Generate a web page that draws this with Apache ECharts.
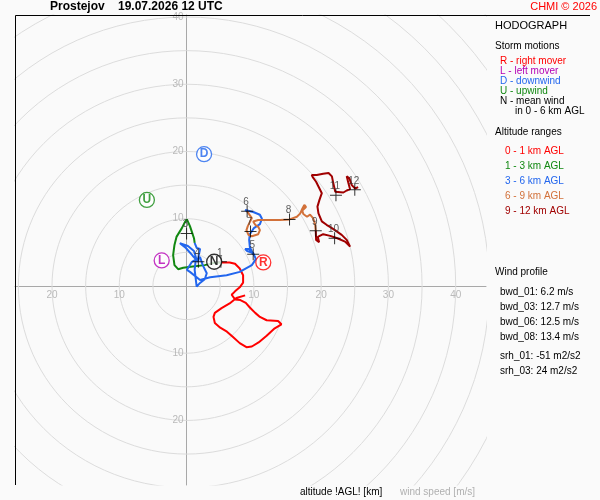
<!DOCTYPE html>
<html>
<head>
<meta charset="utf-8">
<script src="https://cdn.jsdelivr.net/npm/echarts@6.0.0/dist/echarts.min.js"></script>
<style>
  html, body { margin: 0; padding: 0; background: #fafafa; }
  #chart { width: 600px; height: 500px; }
</style>
</head>
<body>
<div id="chart"></div>
<script>
// hodograph wind components u / v [m/s], per altitude range
var redU = [8.7, 7.4, 6.4, 5.2, 4.2, 4.0, 4.2, 5.0, 6.0, 6.9, 7.9, 8.9, 9.7, 10.7, 11.9, 13.1, 14.1, 13.6, 11.9, 10.9, 10.2, 9.4, 8.8, 8.0, 7.2, 6.7, 7.2, 7.9, 8.4, 8.4, 7.9, 7.2, 6.4, 5.2]
var redV = [-1.4, -1.8, -2.6, -3.3, -4.0, -4.6, -5.5, -6.2, -6.8, -7.6, -8.5, -9.1, -9.0, -8.4, -7.4, -6.3, -5.7, -5.2, -5.1, -4.6, -4.0, -3.2, -2.5, -2.1, -2.0, -1.3, -0.8, -0.2, 0.5, 1.6, 2.6, 3.3, 3.5, 3.5]

var greenU = [5.2, 3.9, 2.7, 0.9, -0.5, -1.25, -1.8, -2.0, -1.8, -1.5, -0.7, -0.25, 0.05, 0.5, 0.8, 1.1, 1.2]
var greenV = [3.5, 3.4, 3.1, 2.9, 2.7, 2.5, 3.1, 4.6, 6.1, 7.3, 8.6, 9.5, 9.9, 8.9, 8.0, 7.1, 6.4]

var blueU = [1.2, 1.5, 2.0, 1.8, 1.75, 0.9, -0.1, -1.0, 0.2, 1.1, 1.4, 1.2, 1.5, 2.0, 2.7, 3.0, 2.4, 2.0, 0.8, 0.05, 0.5, 2.0, 3.5, 5.95, 7.9, 9.7, 10.3, 9.9, 9.0, 8.7, 9.3, 9.9, 9.4, 9.3, 9.4, 10.0, 10.9, 11.2, 10.9, 9.9, 8.7, 9.0]
var blueV = [6.4, 5.65, 5.5, 4.5, 3.6, 4.5, 5.65, 6.35, 5.95, 5.2, 4.2, 2.4, -0.1, 0.45, 1.0, 1.9, 3.1, 4.3, 3.6, 2.4, 2.1, 0.9, 1.3, 1.6, 2.1, 3.1, 4.0, 4.9, 5.2, 5.5, 5.5, 4.7, 5.8, 6.85, 7.7, 8.6, 9.2, 10.0, 10.6, 11.0, 11.3, 11.1]

var orangeU = [9.0, 9.7, 9.4, 9.1, 8.9, 9.2, 9.7, 10.65, 10.9, 10.65, 10.2, 9.9, 10.65, 11.2, 12.4, 13.9, 15.3, 16.4, 16.9, 17.2, 17.5, 17.75, 17.2, 17.35, 17.9, 18.35, 18.8, 19.1, 19.2]
var orangeV = [11.1, 10.1, 9.5, 8.9, 8.3, 7.6, 7.4, 7.7, 8.3, 8.8, 9.1, 9.6, 9.8, 9.8, 9.8, 9.8, 9.9, 10.3, 10.8, 11.5, 12.05, 11.75, 11.2, 10.7, 10.3, 10.6, 10.1, 9.2, 8.2]

var darkU = [19.2, 19.25, 19.7, 19.5, 20.3, 21.35, 22.4, 23.55, 24.3, 23.8, 23.05, 22.05, 21.3, 20.8, 20.1, 19.6, 19.45, 19.75, 20.1, 19.6, 19.25, 18.75, 18.6, 19.35, 20.3, 21.1, 21.6, 21.8, 22.1, 22.3, 23.3, 23.8, 24.3, 24.05, 23.8, 24.2, 24.55, 25.05, 25.5]
var darkV = [8.2, 6.85, 6.5, 7.3, 7.7, 7.45, 7.1, 6.6, 5.85, 6.85, 7.6, 8.3, 8.8, 9.1, 9.6, 10.8, 11.8, 12.8, 13.8, 14.8, 15.5, 16.2, 16.5, 16.5, 16.7, 16.8, 16.3, 15.3, 14.0, 13.8, 13.9, 14.2, 14.4, 15.3, 16.3, 16.0, 15.0, 14.5, 14.7]

// altitude markers [km]
var kmLabels = ['1', '3', '4', '5', '6', '7', '8', '9', '10', '11', '12']
var kmU = [5.1, 0.0, 1.75, 9.9, 9.0, 9.5, 15.3, 19.2, 22.0, 22.2, 25.0]
var kmV = [3.6, 7.8, 3.6, 4.7, 11.1, 8.1, 9.9, 8.2, 7.1, 13.5, 14.3]

// storm motions
var stormNames = ['R', 'L', 'D', 'U', 'N']
var stormU = [11.4, -3.7, 2.6, -5.9, 4.1]
var stormV = [3.5, 3.8, 19.6, 12.8, 3.6]
var stormColors = ['#ff0000', '#b400b4', '#2266ee', '#118811', '#000000']

// speed rings and axis ticks
var ringRadii = [5, 10, 15, 20, 25, 30, 35, 40, 45, 50, 55, 60]
var xTicks = [-20, -10, 10, 20, 30, 40]
var yTicks = [-20, -10, 10, 20, 30, 40]

var stormLegend = ['R - right mover', 'L - left mover', 'D - downwind', 'U - upwind', 'N - mean wind']
var altLegend = ['0 - 1 km AGL', '1 - 3 km AGL', '3 - 6 km AGL', '6 - 9 km AGL', '9 - 12 km AGL']
var altColors = ['#ff0000', '#118811', '#2266ee', '#d2713a', '#a00000']
var windProfile = ['bwd_01: 6.2 m/s', 'bwd_03: 12.7 m/s', 'bwd_06: 12.5 m/s', 'bwd_08: 13.4 m/s']
var helicity = ['srh_01: -51 m2/s2', 'srh_03: 24 m2/s2']

var FONT = '"Liberation Sans", Arial, sans-serif'
var AXIS_GRAY = '#a8a8a8'

function zip(us, vs) {
    return us.map(function (u, i) { return [u, vs[i]] })
}

function ring(r) {
    var pts = []
    for (var a = 0; a <= 360; a += 3) {
        pts.push([r * Math.cos(a * Math.PI / 180), r * Math.sin(a * Math.PI / 180)])
    }
    return pts
}

function txt(x, y, text, color, size, weight, align) {
    return {
        type: 'text', x: x, y: y, z: 100,
        style: {
            text: text, fill: color || '#000',
            font: (weight || 'normal') + ' ' + (size || 10) + 'px ' + FONT,
            verticalAlign: 'middle', align: align || 'left'
        }
    }
}

var series = []

ringRadii.forEach(function (r) {
    series.push({
        type: 'line', data: ring(r), showSymbol: false, silent: true,
        lineStyle: { color: '#dcdcdc', width: 1 }, z: 1, animation: false
    })
})

// tick labels sitting on the zero lines
series.push({
    type: 'scatter', silent: true, z: 2, animation: false, symbolSize: 0.1,
    itemStyle: { color: 'rgba(0,0,0,0)' },
    data: xTicks.map(function (t) { return { value: [t, 0], name: String(Math.abs(t)) } }),
    label: { show: true, position: 'inside', offset: [0, 9], formatter: '{b}', color: '#aaaaaa', fontSize: 10, fontFamily: FONT }
})
series.push({
    type: 'scatter', silent: true, z: 2, animation: false, symbolSize: 0.1,
    itemStyle: { color: 'rgba(0,0,0,0)' },
    data: yTicks.map(function (t) { return { value: [0, t], name: String(Math.abs(t)) } }),
    label: { show: true, position: 'left', distance: 3, formatter: '{b}', color: '#aaaaaa', fontSize: 10, fontFamily: FONT }
})

var paths = [[redU, redV], [greenU, greenV], [blueU, blueV], [orangeU, orangeV], [darkU, darkV]]
paths.forEach(function (p, i) {
    series.push({
        type: 'line', data: zip(p[0], p[1]), showSymbol: false, silent: true,
        lineStyle: { color: altColors[i], width: 2 }, z: 3, animation: false
    })
})

series.push({
    type: 'scatter', z: 5, animation: false,
    symbol: 'path://M0,5.5h12v1H0z M5.5,0h1v12h-1z', symbolSize: 12,
    itemStyle: { color: '#000' },
    data: kmLabels.map(function (k, i) { return { value: [kmU[i], kmV[i]], name: k } }),
    label: {
        show: true, position: 'inside', offset: [-1, -9],
        formatter: '{b}', color: '#333', fontSize: 10, fontFamily: FONT
    }
})

series.push({
    type: 'scatter', z: 6, animation: false, symbol: 'circle', symbolSize: 15,
    data: stormNames.map(function (n, i) {
        return {
            value: [stormU[i], stormV[i]], name: n,
            itemStyle: { color: '#fff', borderColor: stormColors[i], borderWidth: 1.3 },
            label: { color: stormColors[i] }
        }
    }),
    label: { show: true, position: 'inside', formatter: '{b}', fontSize: 12, fontWeight: 'bold', fontFamily: FONT }
})

var graphics = [
    { type: 'line', z: 100, shape: { x1: 15.5, y1: 15.5, x2: 590, y2: 15.5 }, style: { stroke: '#000', lineWidth: 1 } },
    { type: 'line', z: 100, shape: { x1: 15.5, y1: 15.5, x2: 15.5, y2: 485 }, style: { stroke: '#000', lineWidth: 1 } },
    txt(50, 7, 'Prostejov', '#000', 12, 'bold'),
    txt(118, 7, '19.07.2026 12 UTC', '#000', 12, 'bold'),
    txt(597, 7, 'CHMI © 2026', '#ff0000', 11, 'normal', 'right'),
    txt(495, 26, 'HODOGRAPH', '#000', 11),
    txt(495, 46.5, 'Storm motions', '#000', 10),
    txt(515, 111.5, 'in 0 - 6 km AGL', '#000', 10),
    txt(495, 132, 'Altitude ranges', '#000', 10),
    txt(495, 272, 'Wind profile', '#000', 10),
    txt(300, 492, 'altitude !AGL! [km]', '#000', 10),
    txt(400, 492, 'wind speed [m/s]', '#b0b0b0', 10)
]
stormLegend.forEach(function (s, i) { graphics.push(txt(500, 61.5 + i * 10, s, stormColors[i], 10)) })
altLegend.forEach(function (s, i) { graphics.push(txt(505, 151.5 + i * 15, s, altColors[i], 10)) })
windProfile.forEach(function (s, i) { graphics.push(txt(500, 292 + i * 15, s, '#000', 10)) })
helicity.forEach(function (s, i) { graphics.push(txt(500, 356.5 + i * 14.5, s, '#000', 10)) })

var chart = echarts.init(document.getElementById('chart'), null, { renderer: 'canvas' })
chart.setOption({
    backgroundColor: '#fafafa',
    animation: false,
    grid: { left: 15, top: 15, width: 471, height: 470, containLabel: false, outerBoundsMode: 'none' },
    xAxis: {
        type: 'value', min: -25.5, max: 44.5,
        axisLine: { onZero: true, lineStyle: { color: AXIS_GRAY, width: 1 } },
        axisTick: { show: false },
        axisLabel: { show: false },
        splitLine: { show: false }
    },
    yAxis: {
        type: 'value', min: -29.6, max: 40.3,
        axisLine: { onZero: true, lineStyle: { color: AXIS_GRAY, width: 1 } },
        axisTick: { show: false },
        axisLabel: { show: false },
        splitLine: { show: false }
    },
    graphic: graphics,
    series: series
})
</script>
</body>
</html>
